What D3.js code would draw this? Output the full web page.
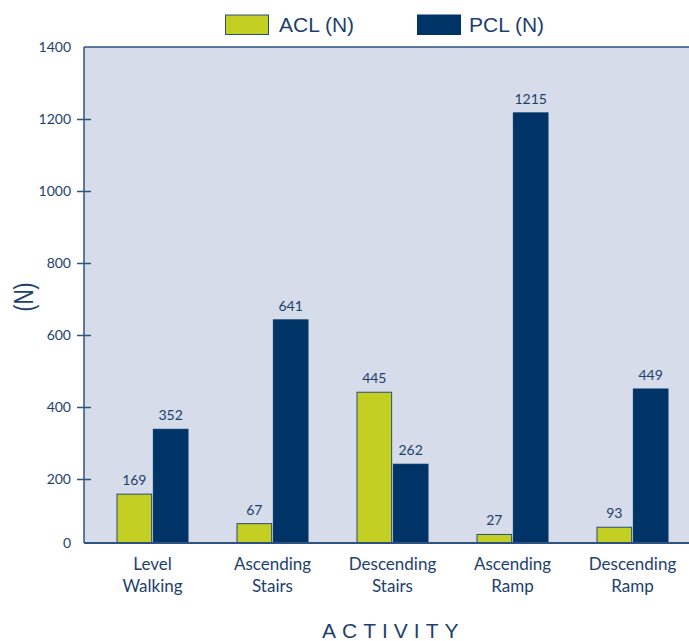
<!DOCTYPE html>
<html>
<head>
<meta charset="utf-8">
<script src="https://cdn.jsdelivr.net/npm/d3@7/dist/d3.min.js"></script>
<style>
  html, body { margin: 0; padding: 0; background: #ffffff; }
  svg { display: block; }
</style>
</head>
<body>
<svg id="chart" width="689" height="641"></svg>
<script>
// ---- data ----
const categories = ["Level Walking", "Ascending Stairs", "Descending Stairs", "Ascending Ramp", "Descending Ramp"];
const seriesNames = ["ACL (N)", "PCL (N)"];
const aclLabels = [169, 67, 445, 27, 93];      // printed values
const pclLabels = [352, 641, 262, 1215, 449];
const aclBars = [158, 76, 441, 46, 66];        // bar heights as drawn
const pclBars = [338, 642, 241, 1217, 450];
const yTicks = [0, 200, 400, 600, 800, 1000, 1200, 1400];
const axisFloor = 22;                           // value where the drawn baseline sits
const xTitle = "ACTIVITY";
const yTitle = "(N)";

// ---- styles ----
const colACL = "#c3cf22";
const colPCL = "#003466";
const colBg = "#d6dce9";
const colText = "#1d3f6e";
const colAxis = "#2d5282";

const svg = d3.select("#chart");
const pLeft = 84, pTop = 47, pBottom = 543, pRight = 689;

const y = d3.scaleLinear().domain([0, 1400]).range([551, 47]);
const x0 = d3.scaleBand().domain(categories).range([92.5, 692.5]).paddingInner(0.4).paddingOuter(0.2);
const x1 = d3.scaleBand().domain(seriesNames).range([0, x0.bandwidth()]).paddingInner(0.02);
const color = d3.scaleOrdinal().domain(seriesNames).range([colACL, colPCL]);

// plot background
svg.append("rect").attr("x", pLeft).attr("y", pTop).attr("width", pRight - pLeft + 5).attr("height", pBottom - pTop)
  .attr("fill", colBg);

// bars
const rows = categories.map((c, i) => ({
  cat: c,
  vals: [
    { s: seriesNames[0], bar: aclBars[i], label: aclLabels[i] },
    { s: seriesNames[1], bar: pclBars[i], label: pclLabels[i] }
  ]
}));

const g = svg.append("g").selectAll("g").data(rows).join("g")
  .attr("transform", d => `translate(${x0(d.cat)},0)`);

g.selectAll("rect").data(d => d.vals).join("rect")
  .attr("x", d => x1(d.s) + 0.5)
  .attr("width", x1.bandwidth() - 1)
  .attr("y", d => y(d.bar))
  .attr("height", d => y(axisFloor) - y(d.bar))
  .attr("fill", d => color(d.s))
  .attr("stroke", d => d.s === seriesNames[0] ? "#2a4d7a" : colPCL)
  .attr("stroke-width", 1);

g.selectAll("text.val").data(d => d.vals).join("text")
  .attr("class", "val")
  .attr("x", d => x1(d.s) + x1.bandwidth() / 2)
  .attr("y", d => y(d.bar) - 9)
  .attr("text-anchor", "middle")
  .attr("font-family", "Lato, sans-serif")
  .attr("font-size", 14)
  .attr("fill", colText)
  .text(d => d.label);

// frame lines
svg.append("line").attr("x1", pLeft).attr("x2", pRight + 5).attr("y1", pTop).attr("y2", pTop)
  .attr("stroke", colAxis).attr("stroke-width", 1.5);
svg.append("line").attr("x1", pLeft).attr("x2", pLeft).attr("y1", pTop).attr("y2", pBottom)
  .attr("stroke", colAxis).attr("stroke-width", 1.5);
svg.append("line").attr("x1", pLeft).attr("x2", pRight + 5).attr("y1", pBottom).attr("y2", pBottom)
  .attr("stroke", colAxis).attr("stroke-width", 2);

// y axis
const tickPos = yTicks.map(v => v === 0 ? axisFloor : v);
const yAxis = d3.axisLeft(y).tickValues(tickPos)
  .tickFormat(v => v === axisFloor ? "0" : String(v))
  .tickSize(7).tickPadding(6);
const ya = svg.append("g").attr("transform", `translate(${pLeft},0)`).call(yAxis);
ya.select(".domain").remove();
ya.selectAll(".tick line")
  .attr("x1", -7).attr("x2", 7)
  .attr("stroke", colAxis).attr("stroke-width", 1.5)
  .attr("display", d => (d === axisFloor || d === 1400) ? "none" : null);
ya.selectAll(".tick text")
  .attr("font-family", "Lato, sans-serif")
  .attr("font-size", 14)
  .attr("fill", colText);

// category labels
const cl = svg.append("g").selectAll("text").data(categories).join("text")
  .attr("x", d => x0(d) + x0.bandwidth() / 2)
  .attr("y", 570)
  .attr("text-anchor", "middle")
  .attr("font-family", "Lato, sans-serif")
  .attr("font-size", 17)
  .attr("fill", colText);
cl.each(function(d) {
  const parts = d.split(" ");
  const t = d3.select(this);
  const cx = x0(d) + x0.bandwidth() / 2;
  parts.forEach((p, i) => t.append("tspan").attr("x", cx).attr("dy", i === 0 ? 0 : 22).text(p));
});

// x title
svg.append("text")
  .attr("x", 322).attr("y", 638)
  .attr("font-family", "'Liberation Sans', Arial, sans-serif")
  .attr("font-size", 21)
  .attr("letter-spacing", 6)
  .attr("fill", colText)
  .text(xTitle);

// y title
svg.append("text")
  .attr("transform", "translate(33,297) rotate(-90) scale(1,1.3)")
  .attr("text-anchor", "middle")
  .attr("font-family", "'Liberation Sans', Arial, sans-serif")
  .attr("font-size", 21)
  .attr("fill", colText)
  .text(yTitle);

// legend
const legendX = [225.5, 417.5];
const lg = svg.append("g").selectAll("g").data(seriesNames).join("g")
  .attr("transform", (d, i) => `translate(${legendX[i]},15)`);
lg.append("rect").attr("width", 43).attr("height", 19.5)
  .attr("fill", d => color(d))
  .attr("stroke", d => d === seriesNames[0] ? "#2a4d7a" : colPCL).attr("stroke-width", 1);
lg.append("text")
  .attr("x", (d, i) => i === 0 ? 53.5 : 51.5)
  .attr("y", 17)
  .attr("font-family", "'Liberation Sans', Arial, sans-serif")
  .attr("font-size", 21)
  .attr("fill", colText)
  .text(d => d);
</script>
</body>
</html>
